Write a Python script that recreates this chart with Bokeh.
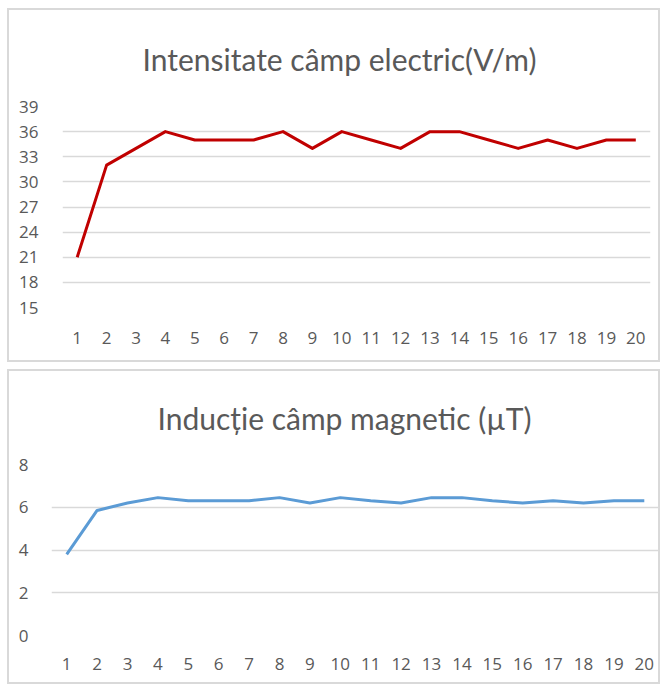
from bokeh.plotting import figure
from bokeh.models import FixedTicker, Range1d, Title
from bokeh.embed import file_html
from bokeh.resources import INLINE

# ---- data ----
samples = list(range(1, 21))
electric_field = [21, 32, 34, 36, 35, 35, 35, 36, 34, 36, 35, 34, 36, 36, 35, 34, 35, 34, 35, 35]
magnetic_ind = [3.8, 5.85, 6.2, 6.45, 6.3, 6.3, 6.3, 6.45, 6.2, 6.45, 6.3, 6.2, 6.45, 6.45, 6.3, 6.2, 6.3, 6.2, 6.3, 6.3]
e_ticks = [15, 18, 21, 24, 27, 30, 33, 36, 39]
b_ticks = [0, 2, 4, 6, 8]
title_e = "Intensitate câmp electric(V/m)"
title_b = "Inducție câmp magnetic (µT)"

GRAY_TXT = "#595959"
GRID = "#d9d9d9"
TICK_FONT = "Open Sans"
TITLE_FONT = "Lato"


def make_chart(xs, ys, yticks, title, color, width, height, borders, title_offset, title_standoff, ystand, xstand):
    p = figure(width=width, height=height, output_backend="svg", toolbar_location=None,
               x_range=Range1d(0.5, 20.5), y_range=Range1d(yticks[0], yticks[-1]),
               min_border_left=borders[0], min_border_right=borders[1],
               min_border_top=borders[2], min_border_bottom=borders[3])
    p.title = None
    t = Title(text=title, align="left", vertical_align="top", offset=title_offset,
              standoff=title_standoff,
              text_font=TITLE_FONT, text_font_size="30px", text_font_style="normal",
              text_color=GRAY_TXT)
    p.add_layout(t, "above")
    p.line(xs, ys, line_color=color, line_width=3, line_join="round")
    p.outline_line_color = None
    p.background_fill_color = "white"
    p.border_fill_color = "white"
    p.xgrid.visible = False
    p.ygrid.grid_line_color = GRID
    p.ygrid.grid_line_width = 1.5
    p.yaxis.ticker = FixedTicker(ticks=yticks)
    p.xaxis.ticker = FixedTicker(ticks=xs)
    for ax in (p.xaxis, p.yaxis):
        ax.axis_line_color = None
        ax.major_tick_line_color = None
        ax.minor_tick_line_color = None
        ax.major_label_text_font = TICK_FONT
        ax.major_label_text_font_size = "17px"
        ax.major_label_text_color = GRAY_TXT
    p.yaxis.major_label_standoff = ystand
    p.xaxis.major_label_standoff = xstand
    p.styles = {"border": "2px solid #d9d9d9"}
    return p


p1 = make_chart(samples, electric_field, e_ticks, title_e, "#C00000", 653, 354,
                (53, 12, 96, 57), 80, 56, 18, 18)
p1.margin = (8, 0, 0, 7)
p2 = make_chart(samples, magnetic_ind, b_ticks, title_b, "#5B9BD5", 653, 315,
                (42, 3, 93, 51), 106, 54, 17, 16)
p2.margin = (7, 0, 0, 7)

open("out.html", "w").write(file_html([p1, p2], INLINE))
